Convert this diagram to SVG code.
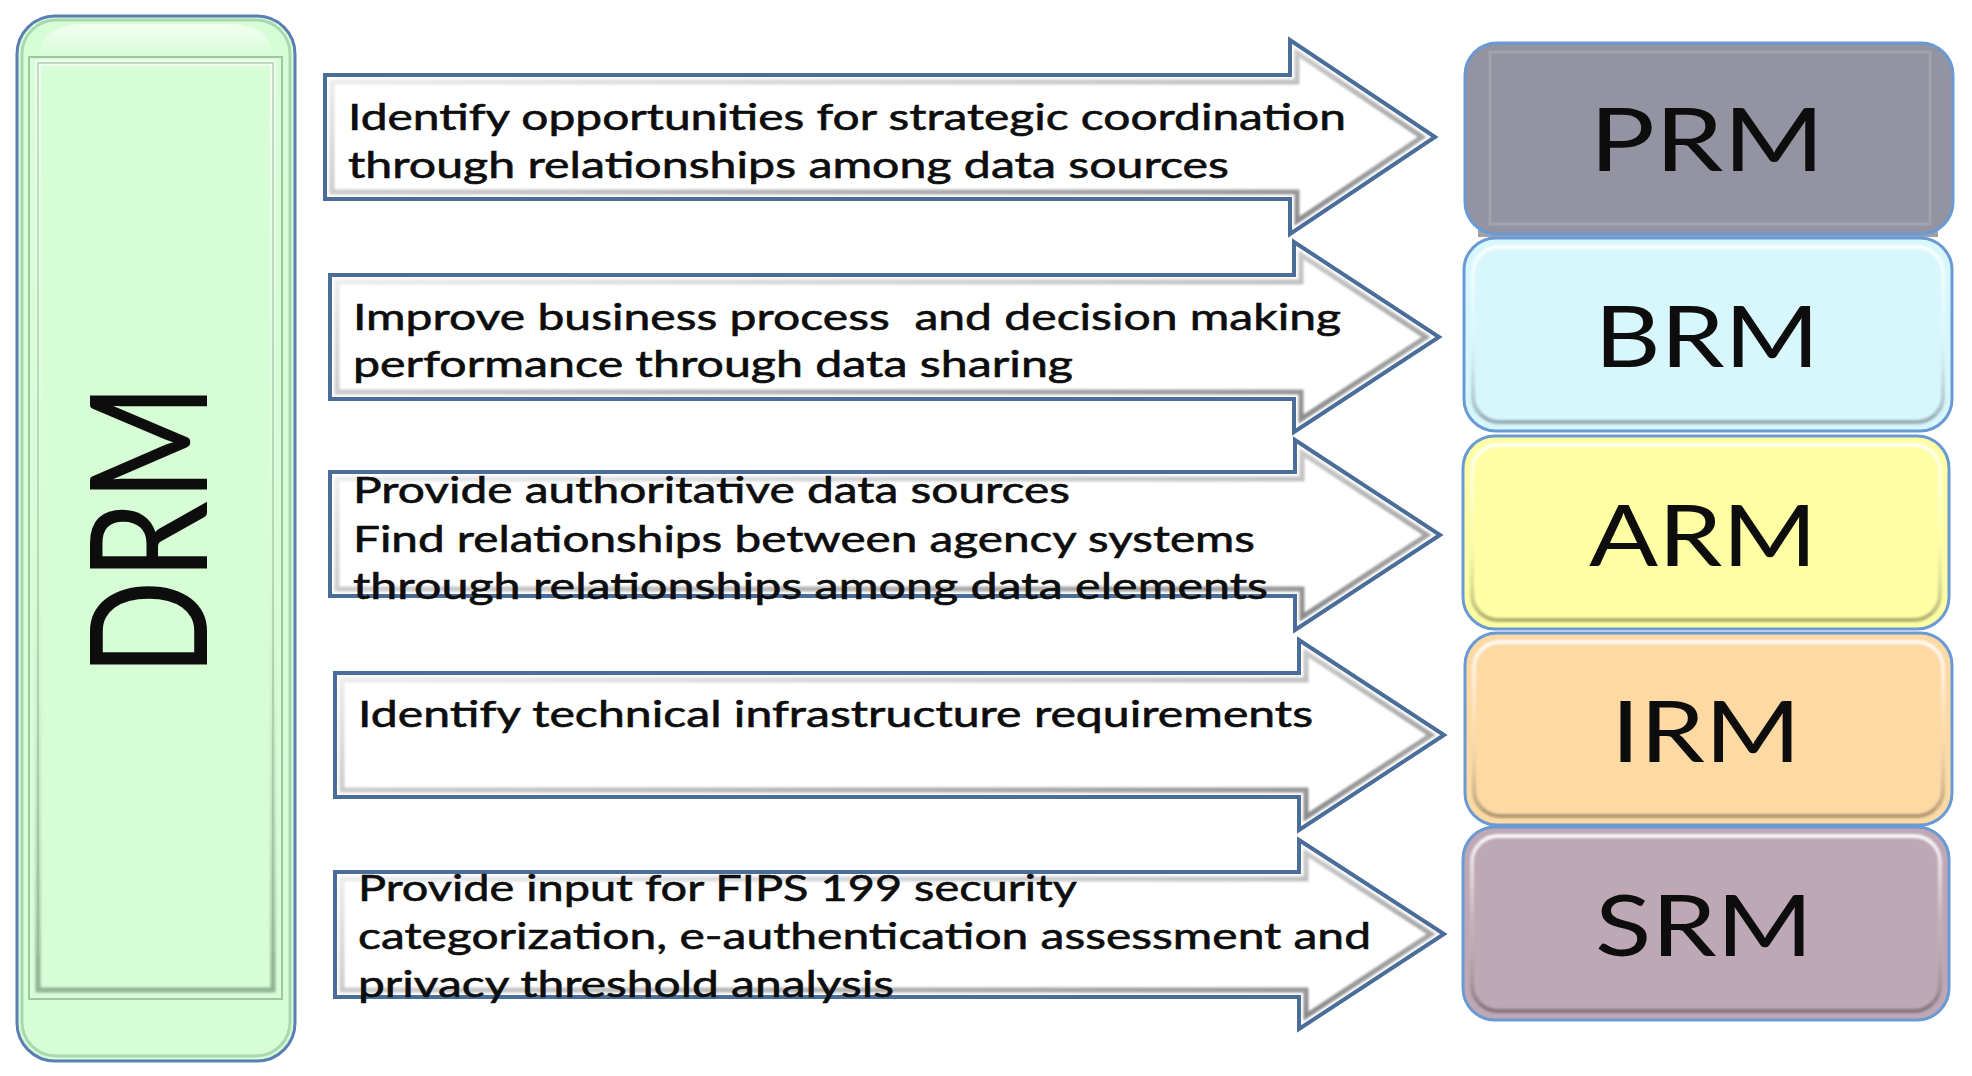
<svg xmlns="http://www.w3.org/2000/svg" width="1972" height="1076" viewBox="0 0 1972 1076">
<defs>
<style>
.t{font-family:Lato,"Liberation Sans",sans-serif;font-size:37px;fill:#0d0d0d;stroke:#0d0d0d;stroke-width:0.6;white-space:pre}
.lbl{font-family:Lato,"Liberation Sans",sans-serif;font-size:86px;fill:#0d0d0d;text-anchor:middle}
.arrow{fill:#ffffff;stroke:#4a6d99;stroke-width:4;stroke-linejoin:miter}
.abev{fill:none;stroke:url(#agrad);stroke-width:5;filter:url(#soft)}
.box{stroke:#6a9ad4;stroke-width:3}
.bev{fill:none;stroke:url(#bgrad);stroke-width:4;filter:url(#soft)}
</style>
<linearGradient id="agrad" x1="0" y1="0" x2="1" y2="1">
<stop offset="0" stop-color="#f4f4f4"/>
<stop offset="0.5" stop-color="#c4c4c4"/>
<stop offset="1" stop-color="#858585"/>
</linearGradient>
<linearGradient id="bgrad" x1="0" y1="0" x2="0" y2="1">
<stop offset="0" stop-color="#ffffff" stop-opacity="0.9"/>
<stop offset="0.5" stop-color="#ffffff" stop-opacity="0.1"/>
<stop offset="1" stop-color="#000000" stop-opacity="0.3"/>
</linearGradient>
<linearGradient id="gloss" x1="0" y1="0" x2="0" y2="1">
<stop offset="0" stop-color="#ffffff" stop-opacity="0.7"/>
<stop offset="1" stop-color="#ffffff" stop-opacity="0"/>
</linearGradient>
<filter id="soft" x="-5%" y="-5%" width="110%" height="110%">
<feGaussianBlur stdDeviation="1.2"/>
</filter>
</defs>
<rect width="1972" height="1076" fill="#ffffff"/>

<g id="drm">
<rect x="17" y="16" width="278" height="1045" rx="38" fill="#d6fdd6" stroke="#5b7fb5" stroke-width="3"/>
<rect x="22" y="20" width="268" height="1036" rx="34" fill="none" stroke="#a9d8b0" stroke-width="3"/>
<path d="M40 56 Q40 26 80 24 L232 24 Q272 26 272 56 Z" fill="url(#gloss)"/>
<rect x="29" y="57" width="253" height="942" fill="none" stroke="#9fc5a2" stroke-width="2"/>
<rect x="38" y="63" width="235" height="927" fill="none" stroke="url(#bgrad)" stroke-width="5" filter="url(#soft)"/>
<rect x="38" y="63" width="235" height="927" fill="none" stroke="#8fb993" stroke-width="1.5" opacity="0.7"/>
<text class="lbl" transform="translate(207,530) rotate(-90)" x="0" y="0" style="font-size:163px" textLength="292" lengthAdjust="spacingAndGlyphs">DRM</text>
</g>

<g id="connectors">
<g id="arrow1">
<path class="arrow" d="M325 75 L1290 75 L1290 40 L1435 137 L1290 234 L1290 199 L325 199 Z"/>
<path class="abev" d="M332 82 L1297 82 L1297 53 L1422 137 L1297 221 L1297 192 L332 192 Z"/>
<text class="t" x="348" y="130" textLength="998" lengthAdjust="spacingAndGlyphs">Identify opportunities for strategic coordination</text>
<text class="t" x="348" y="178" textLength="881" lengthAdjust="spacingAndGlyphs">through relationships among data sources</text>
</g>
<g id="arrow2">
<path class="arrow" d="M330 275 L1294 275 L1294 242 L1439 337 L1294 432 L1294 399 L330 399 Z"/>
<path class="abev" d="M337 282 L1301 282 L1301 255 L1426 337 L1301 419 L1301 392 L337 392 Z"/>
<text class="t" x="353" y="330" textLength="988" lengthAdjust="spacingAndGlyphs">Improve business process  and decision making</text>
<text class="t" x="353" y="377" textLength="720" lengthAdjust="spacingAndGlyphs">performance through data sharing</text>
</g>
<g id="arrow3">
<path class="arrow" d="M330 472 L1295 472 L1295 440 L1440 535 L1295 630 L1295 596 L330 596 Z"/>
<path class="abev" d="M337 479 L1302 479 L1302 453 L1427 535 L1302 617 L1302 589 L337 589 Z"/>
<text class="t" x="353" y="503" textLength="717" lengthAdjust="spacingAndGlyphs">Provide authoritative data sources</text>
<text class="t" x="353" y="552" textLength="902" lengthAdjust="spacingAndGlyphs">Find relationships between agency systems</text>
<text class="t" x="353" y="599" textLength="915" lengthAdjust="spacingAndGlyphs">through relationships among data elements</text>
</g>
<g id="arrow4">
<path class="arrow" d="M335 673 L1299 673 L1299 640 L1444 735 L1299 830 L1299 797 L335 797 Z"/>
<path class="abev" d="M342 680 L1306 680 L1306 653 L1431 735 L1306 817 L1306 790 L342 790 Z"/>
<text class="t" x="358" y="727" textLength="955" lengthAdjust="spacingAndGlyphs">Identify technical infrastructure requirements</text>
</g>
<g id="arrow5">
<path class="arrow" d="M335 872 L1299 872 L1299 840 L1444 934 L1299 1029 L1299 997 L335 997 Z"/>
<path class="abev" d="M342 879 L1306 879 L1306 853 L1431 934 L1306 1016 L1306 990 L342 990 Z"/>
<text class="t" x="358" y="901" textLength="719" lengthAdjust="spacingAndGlyphs">Provide input for FIPS 199 security</text>
<text class="t" x="358" y="949" textLength="1013" lengthAdjust="spacingAndGlyphs">categorization, e-authentication assessment and</text>
<text class="t" x="358" y="997" textLength="536" lengthAdjust="spacingAndGlyphs">privacy threshold analysis</text>
</g>
</g>

<g id="prm">
<rect x="1478" y="47" width="460" height="190" fill="#a2a2aa"/>
<rect class="box" x="1465" y="43" width="488" height="191" rx="32" fill="#9393a1"/>
<rect x="1490" y="52" width="440" height="172" fill="none" stroke="#a8a8b2" stroke-width="3" opacity="0.8"/>
<text class="lbl" x="1707" y="171" textLength="235" lengthAdjust="spacingAndGlyphs" style="font-size:88px">PRM</text>
</g>
<g id="brm">
<rect class="box" x="1464" y="238" width="488" height="193" rx="32" fill="#d7f7fd"/>
<rect class="bev" x="1473" y="247" width="470" height="175" rx="26"/>
<text class="lbl" x="1707" y="367" textLength="225" lengthAdjust="spacingAndGlyphs">BRM</text>
</g>
<g id="arm">
<rect class="box" x="1463" y="436" width="486" height="193" rx="32" fill="#fefea4"/>
<rect class="bev" x="1472" y="445" width="468" height="175" rx="26"/>
<text class="lbl" x="1703" y="566" textLength="228" lengthAdjust="spacingAndGlyphs">ARM</text>
</g>
<g id="irm">
<rect class="box" x="1465" y="633" width="487" height="192" rx="32" fill="#fdd9a4"/>
<rect class="bev" x="1474" y="642" width="469" height="174" rx="26"/>
<text class="lbl" x="1706" y="762" textLength="190" lengthAdjust="spacingAndGlyphs">IRM</text>
</g>
<g id="srm">
<rect class="box" x="1463" y="827" width="486" height="193" rx="32" fill="#bfa8b5"/>
<rect class="bev" x="1472" y="836" width="468" height="175" rx="26"/>
<text class="lbl" x="1704" y="956" textLength="218" lengthAdjust="spacingAndGlyphs">SRM</text>
</g>
</svg>
